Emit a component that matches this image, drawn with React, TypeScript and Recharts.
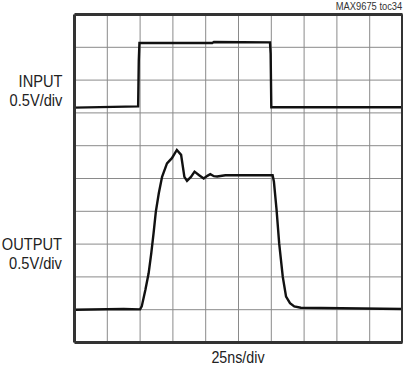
import { LineChart, Line, XAxis, YAxis, CartesianGrid, ReferenceLine } from 'recharts';

// time in divisions (25ns/div), amplitude in divisions from the bottom edge
const GRID_TICKS = [0, 1, 2, 3, 4, 5, 6, 7, 8, 9, 10];

const INPUT_T = [0, 1.94, 1.96, 1.98, 4.2, 4.25, 5.96, 5.98, 6.0, 10];
const INPUT_V = [7.16, 7.2, 8.6, 9.13, 9.13, 9.16, 9.15, 8.8, 7.17, 7.17];

const OUTPUT_T = [
  0, 1.5, 2.0, 2.05, 2.16, 2.26, 2.34, 2.41, 2.48, 2.57, 2.67, 2.82, 2.97, 3.12, 3.25, 3.35, 3.43,
  3.55, 3.66, 3.8, 3.94, 4.05, 4.14, 4.25, 4.35, 4.6, 6.04, 6.08, 6.16, 6.24, 6.35, 6.45, 6.57,
  6.7, 6.9, 10,
];
const OUTPUT_V = [
  1.0, 1.02, 1.01, 1.1, 1.6, 2.11, 2.72, 3.33, 3.99, 4.55, 5.05, 5.46, 5.62, 5.87, 5.72, 5.05, 4.93,
  5.05, 5.21, 5.1, 5.0, 5.08, 5.13, 5.07, 5.06, 5.1, 5.1, 4.9, 4.05, 3.02, 2.0, 1.4, 1.2, 1.1,
  1.06, 1.02,
];

const inputData = INPUT_T.map((t, i) => ({ t, v: INPUT_V[i] }));
const outputData = OUTPUT_T.map((t, i) => ({ t, v: OUTPUT_V[i] }));

const FONT = '"Liberation Sans", Arial, sans-serif';

const labelStyle: React.CSSProperties = {
  position: 'absolute',
  fontFamily: FONT,
  fontSize: 17,
  color: '#222',
  textAlign: 'right',
  lineHeight: '19px',
  right: 403 - 62,
  transform: 'scaleX(0.86)',
  transformOrigin: 'right center',
  whiteSpace: 'nowrap',
};

export default function App() {
  return (
    <div style={{ position: 'absolute', left: 0, top: 0, width: 403, height: 370, background: '#fff' }}>
      <LineChart
        width={403}
        height={370}
        margin={{ top: 14.5, right: 0.5, bottom: 27.5, left: 74.5 }}
      >
        <XAxis type="number" dataKey="t" domain={[0, 10]} ticks={GRID_TICKS} hide allowDuplicatedCategory={false} />
        <YAxis type="number" domain={[0, 10]} ticks={GRID_TICKS} hide />
        <CartesianGrid stroke="#8a8a8a" strokeWidth={1} />
        <Line
          data={inputData}
          dataKey="v"
          type="linear"
          stroke="#111"
          strokeWidth={2.4}
          dot={false}
          isAnimationActive={false}
        />
        <Line
          data={outputData}
          dataKey="v"
          type="linear"
          stroke="#111"
          strokeWidth={2.4}
          dot={false}
          isAnimationActive={false}
        />
        <ReferenceLine x={0} stroke="#333" strokeWidth={3} />
        <ReferenceLine x={10} stroke="#333" strokeWidth={3} />
        <ReferenceLine y={0} stroke="#333" strokeWidth={3} />
        <ReferenceLine y={10} stroke="#333" strokeWidth={3} />
      </LineChart>
      <div style={{ ...labelStyle, top: 72 }}>
        INPUT
        <br />
        0.5V/div
      </div>
      <div style={{ ...labelStyle, top: 235 }}>
        OUTPUT
        <br />
        0.5V/div
      </div>
      <div
        style={{
          position: 'absolute',
          left: 74,
          width: 328,
          top: 348,
          textAlign: 'center',
          fontFamily: FONT,
          fontSize: 17,
          color: '#222',
          transform: 'scaleX(0.84)',
          transformOrigin: 'center center',
        }}
      >
        25ns/div
      </div>
      <div
        style={{
          position: 'absolute',
          right: 1,
          top: 0,
          fontFamily: FONT,
          fontSize: 11,
          color: '#333',
          transform: 'scaleX(0.85)',
          transformOrigin: 'right center',
          whiteSpace: 'nowrap',
        }}
      >
        MAX9675 toc34
      </div>
    </div>
  );
}
